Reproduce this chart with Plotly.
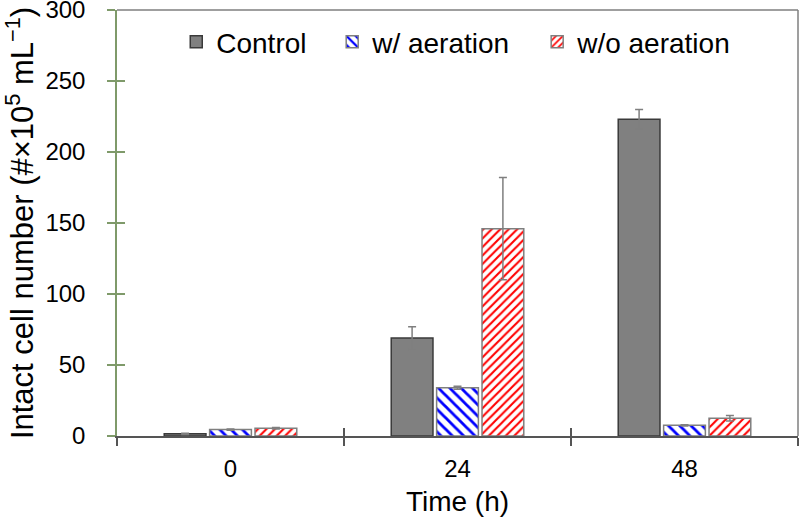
import plotly.graph_objects as go

categories = ["0", "24", "48"]
series_names = ["Control", "w/ aeration", "w/o aeration"]
control = [1.5, 69, 223]
control_err = [0.5, 8, 7]
with_aeration = [4.5, 34, 7.5]
with_aeration_err = [0.5, 1, 0.5]
without_aeration = [5.5, 146, 12.5]
without_aeration_err = [0.5, 36, 2]
y_ticks = [0, 50, 100, 150, 200, 250, 300]

FONT = "Liberation Sans, Arial, sans-serif"
fig = go.Figure()

err_style = dict(type="data", color="#7f7f7f", thickness=1.5, width=4)

fig.add_trace(go.Bar(
    name=series_names[0], x=categories, y=control, legend="legend",
    marker=dict(color="#808080", line=dict(color="#3a3a3a", width=1.5)),
    error_y=dict(array=control_err, **err_style),
))
fig.add_trace(go.Bar(
    name=series_names[1], x=categories, y=with_aeration, legend="legend2",
    marker=dict(color="white", line=dict(color="#7f7f7f", width=1.5),
                pattern=dict(shape="\\", fgcolor="#0000ff", bgcolor="white",
                             fgopacity=1, size=8, solidity=0.35)),
    error_y=dict(array=with_aeration_err, **err_style),
))
fig.add_trace(go.Bar(
    name=series_names[2], x=categories, y=without_aeration, legend="legend3",
    marker=dict(color="white", line=dict(color="#7f7f7f", width=1.5),
                pattern=dict(shape="/", fgcolor="#ff0000", bgcolor="white",
                             fgopacity=1, size=6, solidity=0.35)),
    error_y=dict(array=without_aeration_err, **err_style),
))
# invisible trace binding overlay axes used for the crossing (inside) ticks
fig.add_trace(go.Scatter(x=categories, y=[None] * 3, xaxis="x2", yaxis="y2",
                         showlegend=False, hoverinfo="skip"))

leg_common = dict(orientation="h", yanchor="middle", y=0.925, xanchor="left",
                  font=dict(size=28), bgcolor="rgba(0,0,0,0)", borderwidth=0)

fig.update_layout(
    width=800, height=517,
    margin=dict(l=117, r=2, t=10, b=81, autoexpand=False),
    paper_bgcolor="white", plot_bgcolor="white",
    barmode="group", bargap=0.4, bargroupgap=0.08,
    font=dict(family=FONT, color="black", size=24),
    showlegend=True,
    legend=dict(x=0.087, **leg_common),
    legend2=dict(x=0.316, **leg_common),
    legend3=dict(x=0.617, **leg_common),
    xaxis=dict(
        type="category", categoryarray=categories, tickvals=categories,
        showline=True, linecolor="#555555", linewidth=1.5,
        ticks="outside", tickson="boundaries", ticklen=8, tickcolor="#555555", tickwidth=1.5,
        showgrid=False, zeroline=False, automargin=False,
        tickfont=dict(size=24), ticklabelstandoff=10,
        title=dict(text="Time (h)", font=dict(size=28), standoff=12),
    ),
    yaxis=dict(
        range=[0, 300], tickvals=y_ticks,
        showline=True, linecolor="#7f9a6a", linewidth=1.5,
        ticks="outside", ticklen=8, tickcolor="#7f9a6a", tickwidth=1.5,
        showgrid=False, zeroline=False, automargin=False,
        tickfont=dict(size=24), ticklabelstandoff=17, ticklabeloverflow="allow",
        title=dict(text="Intact cell number (#×10<sup>5</sup> mL<sup>−1</sup>)",
                   font=dict(size=31), standoff=17),
    ),
    xaxis2=dict(
        type="category", categoryarray=categories, overlaying="x", side="bottom",
        tickson="boundaries", ticks="inside", ticklen=8, tickcolor="#555555", tickwidth=1.5,
        showticklabels=False, showline=False, showgrid=False, zeroline=False,
        matches="x",
    ),
    yaxis2=dict(
        range=[0, 300], tickvals=y_ticks, overlaying="y", side="left",
        ticks="inside", ticklen=8, tickcolor="#7f9a6a", tickwidth=1.5,
        showticklabels=False, showline=False, showgrid=False, zeroline=False,
    ),
    shapes=[
        dict(type="line", xref="paper", yref="paper", x0=0, x1=1, y0=1, y1=1,
             line=dict(color="#7f7f7f", width=1.5)),
        dict(type="line", xref="paper", yref="paper", x0=1, x1=1, y0=0, y1=1,
             line=dict(color="#7f7f7f", width=1.5)),
    ],
)

fig.write_html("out.html", config={"displayModeBar": False},
               post_script="document.body.style.margin='0';document.body.style.padding='0';")
